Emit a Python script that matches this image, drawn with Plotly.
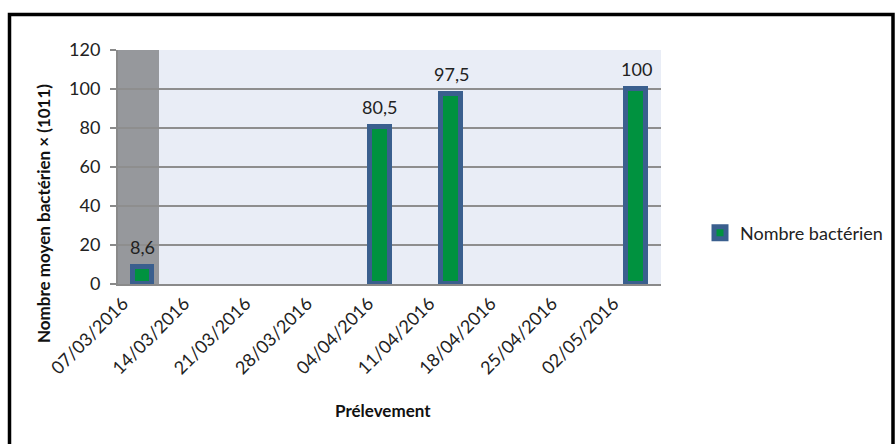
import plotly.graph_objects as go

# Data
dates = ["2016-03-09 06:00", "2016-04-05 08:00", "2016-04-13 11:00", "2016-05-04 14:00"]
values = [8.6, 80.5, 97.5, 100]
series_name = "Nombre bactérien"
tick_start = "2016-03-07"
x_range = ["2016-03-06 10:18", "2016-05-07 10:18"]
band_end = "2016-03-11 02:40"
y_ticks = [0, 20, 40, 60, 80, 100, 120]

FONT = "Lato"
DAY = 86400000
W, H = 895, 444
L, R, T, B = 118, 0, 50, 160
PLOT_W = 543
PAPER_W = W - L - R
PAPER_H = H - T - B


def px(x):
    return (x - L) / PAPER_W


def py(y):
    return (H - B - y) / PAPER_H


fig = go.Figure()
fig.add_trace(go.Bar(
    x=dates, y=values, name=series_name,
    width=[2.2 * DAY] * len(dates),
    marker=dict(color="#00923f", line=dict(color="#3a5f8e", width=5)),
    showlegend=True,
))

for d, v in zip(dates, values):
    fig.add_annotation(x=d, y=v, text=f"{v:g}".replace(".", ","),
                       showarrow=False, yanchor="bottom", yshift=7,
                       font=dict(family=FONT, size=18, color="#222222"))

# grey highlighted band at the start of the axis
fig.add_shape(type="rect", xref="x", yref="paper", x0=x_range[0], x1=band_end,
              y0=0, y1=1, fillcolor="#96989c", line=dict(width=0), layer="below")

# outer frame
fig.add_shape(type="rect", xref="paper", yref="paper", x0=px(9.5), x1=px(893),
              y0=py(452), y1=py(14.5), line=dict(color="black", width=3.5),
              fillcolor="rgba(0,0,0,0)", layer="above")

fig.add_annotation(xref="paper", yref="paper", x=px(383), y=py(411),
                   xanchor="center", yanchor="middle",
                   text="<b>Prélevement</b>", showarrow=False,
                   font=dict(family=FONT, size=17, color="#111111"))
fig.add_annotation(xref="paper", yref="paper", x=px(43), y=py(214),
                   xanchor="center", yanchor="middle",
                   text="<b>Nombre moyen bactérien × (1011)</b>", textangle=-90,
                   showarrow=False, font=dict(family=FONT, size=17, color="#111111"))

fig.update_layout(
    width=W, height=H,
    margin=dict(l=L, r=R, t=T, b=B),
    paper_bgcolor="white", plot_bgcolor="#e9edf6",
    separators=", ",
    font=dict(family=FONT, size=18, color="#222222"),
    showlegend=True,
    legend=dict(x=px(700), y=py(233), xanchor="left", yanchor="middle",
                font=dict(family=FONT, size=18, color="#222222"),
                itemwidth=30, bgcolor="rgba(0,0,0,0)"),
    bargap=0,
)
fig.update_xaxes(
    domain=[0, PLOT_W / PAPER_W],
    type="date", range=x_range, tick0=tick_start, dtick=7 * DAY,
    tickformat="%d/%m/%Y", tickangle=-45, showgrid=False,
    showline=True, linecolor="#8a8a8a", linewidth=2,
    ticks="", tickfont=dict(family=FONT, size=18, color="#222222"),
)
fig.update_yaxes(
    range=[0, 120], tickvals=y_ticks, showgrid=True, gridcolor="#8e8e8e", gridwidth=2,
    showline=True, linecolor="#8a8a8a", linewidth=2, ticks="outside", ticklen=6,
    tickcolor="#8a8a8a", tickwidth=2, zeroline=False, ticklabelstandoff=6,
    tickfont=dict(family=FONT, size=18, color="#222222"),
)

fig.write_html("out.html")
